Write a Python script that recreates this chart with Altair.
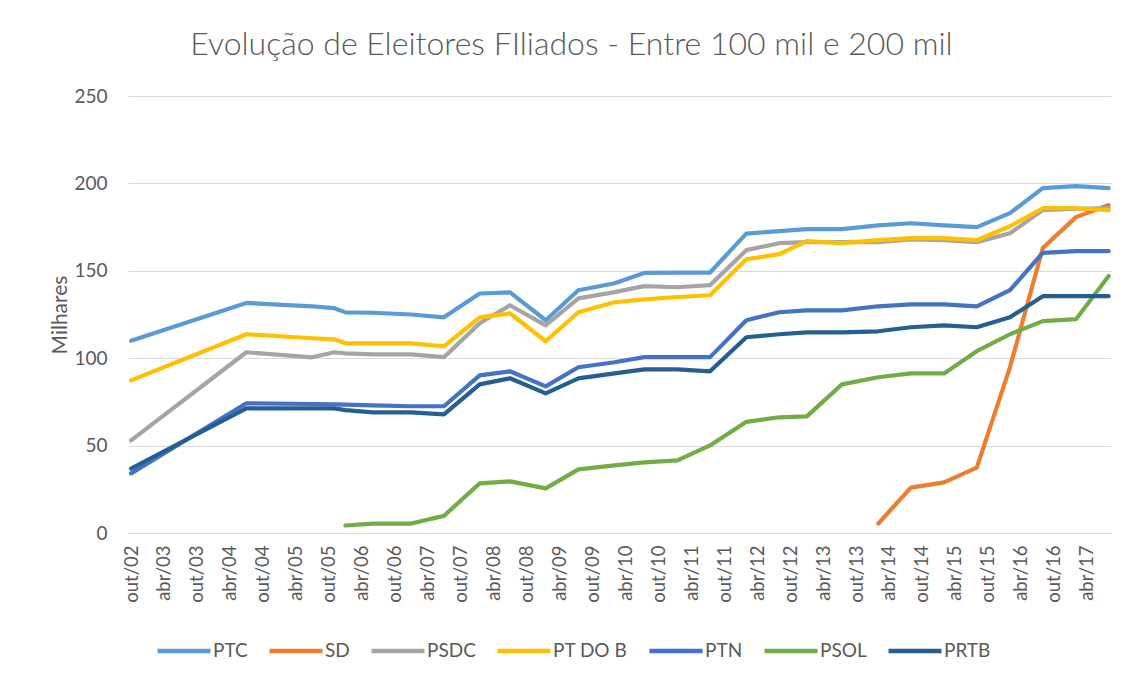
import altair as alt
import pandas as pd

# Observation dates (x positions of the line vertices)
dates = [
    "2002-10-01", "2004-07-01", "2005-07-01", "2005-11-01", "2006-01-01",
    "2006-06-01", "2007-01-01", "2007-07-01", "2008-01-15", "2008-07-01",
    "2009-01-15", "2009-07-15", "2010-02-01", "2010-07-15", "2011-01-15",
    "2011-07-15", "2012-02-01", "2012-08-01", "2013-01-01", "2013-07-15",
    "2014-02-01", "2014-08-01", "2015-02-01", "2015-08-01", "2016-02-01",
    "2016-08-01", "2017-02-01", "2017-08-01",
]

series_names = ["PTC", "SD", "PSDC", "PT DO B", "PTN", "PSOL", "PRTB"]
series_colors = ["#5B9BD5", "#ED7D31", "#A5A5A5", "#FFC000", "#4472C4", "#70AD47", "#255E91"]

ptc = [110, 131.6, 129.7, 128.6, 126.2, 126, 125, 123.4, 137, 137.7,
       121.7, 138.9, 142.9, 148.8, 149, 149, 171.3, 172.7, 173.8, 173.8,
       176, 177.2, 176, 175, 183, 197.3, 198.4, 197.3]
sd = [None] * 20 + [5.4, 26, 29, 37.4, 94.8, 163, 180.7, 187.6]
psdc = [53, 103.4, 100.5, 103.4, 102.8, 102.2, 102.2, 100.6, 120, 130.3,
        118.8, 134.2, 137.8, 141.2, 140.6, 141.8, 161.8, 165.8, 166.4, 166.4,
        166.4, 168, 167.5, 166.4, 171.5, 184.7, 185.5, 185.8]
ptdob = [87.3, 113.7, 111.4, 110.8, 108.5, 108.5, 108.5, 106.8, 123.4, 125.7,
         109.7, 126.3, 132, 133.7, 135, 136, 156.6, 159.5, 167, 165.8,
         167.5, 168.7, 168.7, 167.5, 175.5, 185.8, 185.8, 184.7]
ptn = [34.1, 74.2, 73.8, 73.6, 73.4, 73, 72.5, 72.5, 90.2, 92.5,
       83.9, 94.8, 97.7, 100.6, 100.6, 100.6, 121.7, 126.3, 127.4, 127.4,
       129.7, 130.8, 130.8, 129.7, 138.9, 160.3, 161.2, 161.2]
psol = [None] * 4 + [4.3, 5.4, 5.4, 9.8, 28.4, 29.5,
                     25.5, 36.4, 38.7, 40.4, 41.5, 50.1, 63.6, 66.2, 66.7, 85,
                     89.1, 91.3, 91.3, 104, 113.7, 121.2, 122.3, 147]
prtb = [36.9, 71.3, 71.3, 71.3, 70.3, 69, 69, 67.9, 85, 88.5,
        79.9, 88.5, 91.3, 93.6, 93.6, 92.5, 112, 113.7, 114.8, 114.8,
        115.4, 117.7, 118.8, 117.7, 123.4, 135.5, 135.5, 135.5]

y_ticks = [0, 50, 100, 150, 200, 250]
tick_years = list(range(2002, 2018))

values = [ptc, sd, psdc, ptdob, ptn, psol, prtb]
rows = []
for name, vals in zip(series_names, values):
    for d, v in zip(dates, vals):
        if v is not None:
            rows.append({"data": d, "partido": name, "valor": v})
df = pd.DataFrame(rows)

tick_values = []
for yr in tick_years:
    for mo in (4, 10):
        if (yr == 2002 and mo == 4) or (yr == 2017 and mo == 10):
            continue
        tick_values.append(alt.DateTime(year=yr, month=mo, date=1))

FONT = "Lato"
GREY = "#595959"

chart = alt.Chart(df).mark_line(
    strokeWidth=4.2, strokeCap="round", strokeJoin="round"
).encode(
    x=alt.X(
        "data:T",
        scale=alt.Scale(domain=[alt.DateTime(year=2002, month=9, date=14),
                                alt.DateTime(year=2017, month=8, date=14)]),
        axis=alt.Axis(
            values=tick_values,
            labelExpr="(month(datum.value) == 3 ? 'abr/' : 'out/') + timeFormat(datum.value, '%y')",
            labelAngle=270, labelAlign="right", labelBaseline="middle",
            labelFontSize=18.5, labelFont=FONT, labelColor=GREY, labelPadding=12,
            grid=False, domain=False, ticks=False, title=None, labelOverlap=False,
        ),
    ),
    y=alt.Y(
        "valor:Q",
        scale=alt.Scale(domain=[0, 250], nice=False),
        axis=alt.Axis(
            values=y_ticks, title="Milhares", titleFont=FONT, titleFontSize=21,
            titleFontWeight="normal", titleColor=GREY, titlePadding=3,
            labelFont=FONT, labelFontSize=19, labelColor=GREY, labelPadding=21,
            grid=True, gridColor="#D9D9D9", gridWidth=1.2, domain=False, ticks=False,
        ),
    ),
    color=alt.Color(
        "partido:N",
        scale=alt.Scale(domain=series_names, range=series_colors),
        legend=alt.Legend(
            title=None, orient="none", legendX=27, legendY=526,
            direction="horizontal", symbolType="stroke", symbolSize=2809,
            symbolStrokeWidth=4.5, labelFont=FONT, labelFontSize=19,
            labelColor=GREY, columnPadding=12, labelOffset=0,
        ),
    ),
).properties(
    width=983,
    height=437,
    padding={"left": 120, "top": 88, "right": 10, "bottom": 130},
    autosize=alt.AutoSizeParams(type="none"),
    title=alt.TitleParams(
        "Evolução de Eleitores FIliados - Entre 100 mil e 200 mil",
        font=FONT, fontSize=32, fontWeight=300, color=GREY,
        anchor="middle", dx=-48, offset=25,
    ),
).configure_view(stroke=None)

chart.save("out.html", embed_options={"renderer": "svg", "actions": False})
